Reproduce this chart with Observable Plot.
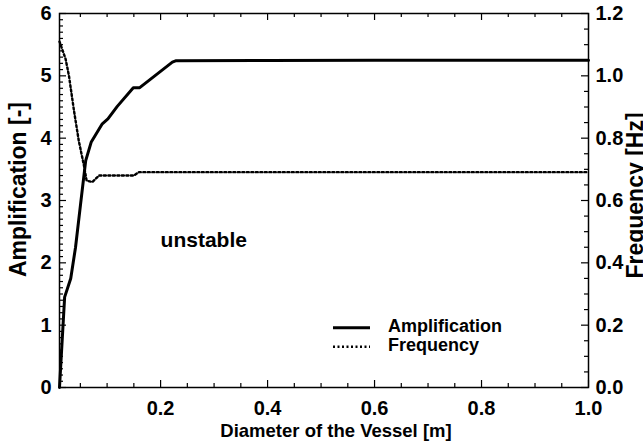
<!DOCTYPE html>
<html>
<head>
<meta charset="utf-8">
<script src="https://cdn.jsdelivr.net/npm/d3@7"></script>
<script src="https://cdn.jsdelivr.net/npm/@observablehq/plot@0.6"></script>
<style>
html, body { margin: 0; padding: 0; background: #fff; }
#chart { position: relative; width: 643px; height: 444px; overflow: hidden; }
#legend { position: absolute; left: 0; top: 0; }
</style>
</head>
<body>
<div id="chart"></div>
<script>
// ---- data ----
const diameterAmp = [0.011, 0.0206, 0.032, 0.041, 0.0505, 0.06, 0.0704, 0.091, 0.1015, 0.119, 0.149, 0.161, 0.222, 0.228, 0.4, 0.6, 0.8, 1.0];
const amplification = [0, 1.45, 1.75, 2.25, 2.95, 3.64, 3.94, 4.23, 4.31, 4.51, 4.81, 4.81, 5.22, 5.24, 5.245, 5.25, 5.25, 5.25];
const diameterFreq = [0.011, 0.0224, 0.0287, 0.038, 0.047, 0.0567, 0.0617, 0.0723, 0.0847, 0.15, 0.1595, 0.4, 0.6, 0.8, 1.0];
const frequency = [1.11, 1.054, 1.0, 0.889, 0.792, 0.712, 0.664, 0.659, 0.68, 0.68, 0.691, 0.691, 0.691, 0.691, 0.691];
const xTicks = [0.2, 0.4, 0.6, 0.8, 1.0];
const ampTicks = [0, 1, 2, 3, 4, 5, 6];
const freqTicks = [0.0, 0.2, 0.4, 0.6, 0.8, 1.0, 1.2];
const xTitle = "Diameter of the Vessel [m]";
const ampTitle = "Amplification [-]";
const freqTitle = "Frequency [Hz]";
const noteText = ["unstable"];
const noteX = [0.2];
const noteY = [2.36];
const legendLabels = ["Amplification", "Frequency"];

// ---- layout ----
const W = 643, H = 444, mL = 59, mR = 55, mT = 13, mB = 57;
const iw = W - mL - mR, ih = H - mT - mB;
const F2A = 6 / 1.2; // frequency axis 0..1.2 maps onto amplification axis 0..6
const FONT = "'Liberation Sans', Arial, Helvetica, sans-serif";

const ampData = diameterAmp.map((d, i) => ({d, v: amplification[i]}));
const freqData = diameterFreq.map((d, i) => ({d, v: frequency[i]}));
const notes = noteText.map((t, i) => ({t, x: noteX[i], y: noteY[i]}));

const near = (a, b) => Math.abs(a - b) < 1e-9;
const xMinor = d3.range(1, 21).map(k => k * 0.05).filter(v => !xTicks.some(t => near(t, v)));
const ampMinor = d3.range(1, 60).map(k => k / 10).filter(v => !ampTicks.some(t => near(t, v)));
const freqMinor = d3.range(1, 24).map(k => k * 0.05).filter(v => !freqTicks.some(t => near(t, v)));

const tickStyle = {stroke: "black", strokeWidth: 1.2};
const dotted = {stroke: "black", strokeWidth: 2.4, strokeDasharray: "2,2.5"};

const chart = Plot.plot({
  width: W, height: H,
  marginLeft: mL, marginRight: mR, marginTop: mT, marginBottom: mB,
  x: {domain: [0.011, 1.0]},
  y: {domain: [0, 6]},
  style: {fontFamily: FONT, fontSize: "20px", fontWeight: "bold", color: "black", background: "white"},
  marks: [
    Plot.line(ampData, {x: "d", y: "v", stroke: "black", strokeWidth: 3, strokeLinejoin: "round"}),
    Plot.line(freqData, {x: "d", y: d => d.v * F2A, ...dotted}),
    Plot.tickX(xTicks, {x: d => d, insetTop: ih - 7, ...tickStyle}),
    Plot.tickX(xTicks, {x: d => d, insetBottom: ih - 7, ...tickStyle}),
    Plot.tickX(xMinor, {x: d => d, insetTop: ih - 4, ...tickStyle}),
    Plot.tickX(xMinor, {x: d => d, insetBottom: ih - 4, ...tickStyle}),
    Plot.tickY(ampTicks, {y: d => d, insetRight: iw - 7, ...tickStyle}),
    Plot.tickY(ampMinor, {y: d => d, insetRight: iw - 4, ...tickStyle}),
    Plot.tickY(freqTicks, {y: d => d * F2A, insetLeft: iw - 7, ...tickStyle}),
    Plot.tickY(freqMinor, {y: d => d * F2A, insetLeft: iw - 4, ...tickStyle}),
    Plot.frame({stroke: "black", strokeWidth: 1.5}),
    Plot.axisX({ticks: xTicks, tickSize: 0, tickPadding: 13, tickFormat: d3.format(".1f"), label: null}),
    Plot.axisY({anchor: "left", ticks: ampTicks, tickSize: 0, tickPadding: 8, tickFormat: d3.format("d"), label: null}),
    Plot.axisY({anchor: "right", ticks: freqTicks.map(f => f * F2A), tickSize: 0, tickPadding: 7,
                tickFormat: v => d3.format(".1f")(v / F2A), label: null}),
    Plot.text([xTitle], {frameAnchor: "bottom", text: d => d, textAnchor: "middle", lineAnchor: "top",
                         dy: 36, dx: 12, fontSize: 18.5}),
    Plot.text([ampTitle], {frameAnchor: "left", text: d => d, rotate: -90, textAnchor: "middle", lineAnchor: "middle",
                           dx: -41, dy: -11, fontSize: 23}),
    Plot.text([freqTitle], {frameAnchor: "right", text: d => d, rotate: -90, textAnchor: "middle", lineAnchor: "middle",
                            dx: 47, dy: -5, fontSize: 23}),
    Plot.text(notes, {x: "x", y: "y", text: "t", textAnchor: "start", lineAnchor: "middle", fontSize: 21})
  ]
});
document.getElementById("chart").appendChild(chart);

// ---- legend ----
const leg = d3.select("#chart").append("svg").attr("id", "legend").attr("width", W).attr("height", H)
  .style("font-family", FONT).style("font-size", "18px").style("font-weight", "bold");
legendLabels.forEach((lab, i) => {
  const ly = 327.7 + i * 19;
  const ln = leg.append("line").attr("x1", 333).attr("x2", 370).attr("y1", ly).attr("y2", ly)
    .attr("stroke", "black").attr("stroke-width", i === 0 ? 3 : 2.4);
  if (i > 0) ln.attr("stroke-dasharray", "2,2.5");
  leg.append("text").attr("x", 388).attr("y", 332 + i * 18.5).attr("fill", "black").text(lab);
});
</script>
</body>
</html>
